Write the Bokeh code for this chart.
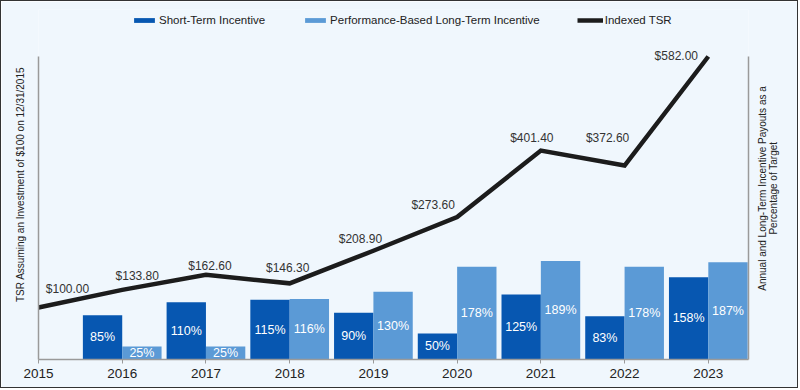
import math
from bokeh.plotting import figure
from bokeh.models import (ColumnDataSource, Range1d, LinearAxis, FixedTicker,
                          Legend, LegendItem)
from bokeh.transform import dodge
from bokeh.core.properties import value
from bokeh.embed import file_html
from bokeh.resources import INLINE

# ---------------- data ----------------
tsr_years = [2015, 2016, 2017, 2018, 2019, 2020, 2021, 2022, 2023]
tsr_values = [100.00, 133.80, 162.60, 146.30, 208.90, 273.60, 401.40, 372.60, 582.00]
tick_labels = ["2015", "2016", "2017", "2018", "2019", "2020", "2021", "2022", "2023"]

bar_years = [2016, 2017, 2018, 2019, 2020, 2021, 2022, 2023]
sti_pct = [85, 110, 115, 90, 50, 125, 83, 158]
lti_pct = [25, 25, 116, 130, 178, 189, 178, 187]

series_names = ["Short-Term Incentive", "Performance-Based Long-Term Incentive", "Indexed TSR"]
left_title = "TSR Assuming an Investment of $100 on 12/31/2015"
right_title_1 = "Annual and Long-Term Incentive Payouts as a"
right_title_2 = "Percentage of Target"

# ---------------- style ----------------
FONT = "Liberation Sans"
BG = "#f0f7fd"
STI_C = "#0757b1"
LTI_C = "#5b9ad6"
LINE_C = "#1c1c1c"
AXIS_C = "#9a9a9a"
TXT_C = "#222222"
# label offsets in screen pixels (x right, y down)
tsr_dx = [29, 15, 4, -2, -13, -24, -9, -17, -32]
tsr_dy = [-18, -14, -9, -15, -12, -12, -13, -28, -1]

W, H = 798, 388
TOP, BOTTOM, LEFT, RIGHT = 8, 30, 37, 51
Y_TOP_PX = 47            # distance from frame top to the axis end
frame_h = H - TOP - BOTTOM
y_max_axis = max(tsr_values)
y_end = y_max_axis * frame_h / (frame_h - Y_TOP_PX)
px_per_unit = (frame_h - Y_TOP_PX) / y_max_axis
# right title placement (tick-anchored; text starts at tick and runs upward)
title_center = 330
r1_anchor = round(title_center - 103 / px_per_unit)
r2_anchor = round(title_center - 47 / px_per_unit)

bar_src = ColumnDataSource(dict(
    year=bar_years,
    sti=sti_pct,
    lti=lti_pct,
    sti_mid=[v / 2 for v in sti_pct],
    lti_mid=[v / 2 for v in lti_pct],
    sti_lab=[f"{v}%" for v in sti_pct],
    lti_lab=[f"{v}%" for v in lti_pct],
))
tsr_src = ColumnDataSource(dict(
    year=tsr_years,
    tsr=tsr_values,
    lab=[f"${v:,.2f}" for v in tsr_values],
    dx=tsr_dx,
    dy=tsr_dy,
))

p = figure(width=W, height=H,
           x_range=Range1d(2015, 2023.48), y_range=Range1d(0, y_end),
           output_backend="svg", toolbar_location=None,
           min_border_left=LEFT, min_border_right=RIGHT,
           min_border_top=TOP, min_border_bottom=BOTTOM,
           background_fill_color=BG, border_fill_color=BG,
           outline_line_color=None)
p.styles = {"border": "1px solid #333333"}
p.xgrid.visible = False
p.ygrid.visible = False

# x axis
xa = p.xaxis[0]
xa.ticker = FixedTicker(ticks=tsr_years)
xa.major_label_overrides = {y: l for y, l in zip(tsr_years, tick_labels)}
xa.major_tick_in = 0
xa.major_tick_out = 4
xa.major_tick_line_color = AXIS_C
xa.minor_tick_line_color = None
xa.axis_line_color = AXIS_C
xa.axis_line_width = 1.5
xa.major_label_text_font = FONT
xa.major_label_text_font_size = "13.5px"
xa.major_label_text_color = TXT_C
xa.major_label_standoff = 5

# left axis
ya = p.yaxis[0]
ya.bounds = (0, y_max_axis)
ya.ticker = FixedTicker(ticks=[])
ya.axis_label = left_title
ya.axis_label_standoff = 13
ya.axis_label_text_font = FONT
ya.axis_label_text_font_size = "10px"
ya.axis_label_text_font_style = "normal"
ya.axis_label_text_color = TXT_C
ya.axis_line_color = AXIS_C
ya.axis_line_width = 1.5
ya.major_tick_line_color = None
ya.minor_tick_line_color = None
ya.major_label_text_font_size = "0px"

# right axis (line + first title line), then second title line
ra = LinearAxis(bounds=(0, y_max_axis),
                ticker=FixedTicker(ticks=[r1_anchor]),
                major_label_overrides={r1_anchor: right_title_1},
                major_label_orientation=math.pi / 2,
                major_label_standoff=14,
                major_label_text_font=FONT, major_label_text_font_size="10px",
                major_label_text_color=TXT_C,
                major_tick_in=0, major_tick_out=0,
                major_tick_line_color=None, minor_tick_line_color=None,
                axis_line_color=AXIS_C, axis_line_width=1.5)
p.add_layout(ra, "right")
rb = LinearAxis(bounds=(0, y_max_axis),
                ticker=FixedTicker(ticks=[r2_anchor]),
                major_label_overrides={r2_anchor: right_title_2},
                major_label_orientation=math.pi / 2,
                major_label_standoff=-3,
                major_label_text_font=FONT, major_label_text_font_size="10px",
                major_label_text_color=TXT_C,
                major_tick_in=0, major_tick_out=0,
                major_tick_line_color=None, minor_tick_line_color=None,
                axis_line_color=None)
p.add_layout(rb, "right")

# bars
r_sti = p.vbar(x=dodge("year", -0.235), top="sti", width=0.47, source=bar_src,
               fill_color=STI_C, line_color=None)
r_lti = p.vbar(x=dodge("year", 0.235), top="lti", width=0.47, source=bar_src,
               fill_color=LTI_C, line_color=None)

p.text(x=dodge("year", -0.235), y="sti_mid", text="sti_lab", source=bar_src,
       text_align="center", text_baseline="middle", text_color="white",
       text_font=value(FONT), text_font_size="12.5px")
p.text(x=dodge("year", 0.235), y="lti_mid", text="lti_lab", source=bar_src,
       text_align="center", text_baseline="middle", text_color="white",
       text_font=value(FONT), text_font_size="12.5px")

# TSR line
r_tsr = p.line(x="year", y="tsr", source=tsr_src, line_width=4.5,
               line_color=LINE_C, line_join="miter")
p.text(x="year", y="tsr", text="lab", source=tsr_src, x_offset="dx", y_offset="dy",
       text_align="center", text_baseline="middle", text_color="#333333",
       text_font=value(FONT), text_font_size="12px")

legend = Legend(items=[LegendItem(label=series_names[0], renderers=[r_sti]),
                       LegendItem(label=series_names[1], renderers=[r_lti]),
                       LegendItem(label=series_names[2], renderers=[r_tsr])],
                orientation="horizontal", location=(93, 333),
                glyph_width=26, glyph_height=6, label_standoff=2, spacing=37,
                padding=0, margin=0, border_line_color=None,
                background_fill_alpha=0,
                label_text_font=FONT, label_text_font_size="11.5px",
                label_text_color=TXT_C)
p.add_layout(legend)

open("out.html", "w").write(file_html(p, INLINE))
